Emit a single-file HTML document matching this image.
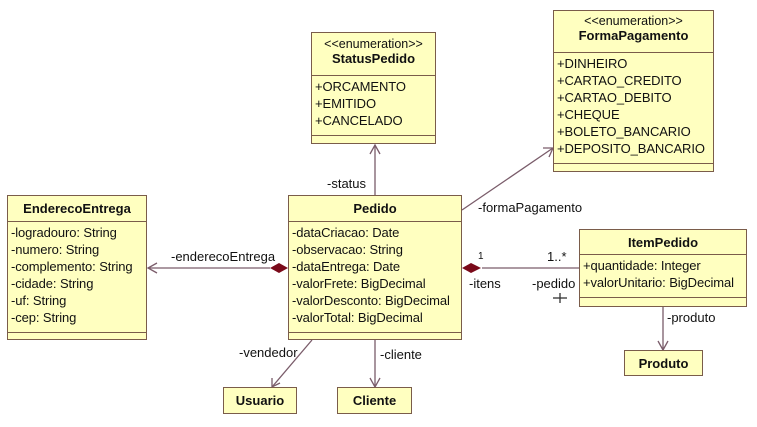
<!DOCTYPE html>
<html><head><meta charset="utf-8"><style>
body{margin:0;width:757px;height:427px;background:#fff;position:relative;overflow:hidden;font-family:"Liberation Sans",sans-serif;font-size:13px;color:#111}
.b{position:absolute;background:#ffffc0;border:1px solid #7a5c4a;box-sizing:border-box}
.h{border-bottom:1px solid #7a5c4a;text-align:center;font-weight:bold;font-size:13px;box-sizing:border-box}
.a{border-bottom:1px solid #7a5c4a;padding:2px 0 0 3px;line-height:17px;box-sizing:border-box;white-space:nowrap;letter-spacing:-0.1px}
.s{font-weight:normal;font-size:12.5px;display:block}
.l{position:absolute;font-size:13px;white-space:nowrap}
svg{position:absolute;left:0;top:0}
</style></head><body>
<svg width="757" height="427">
<g stroke="#7a5c6a" stroke-width="1.3" fill="none">
<line x1="375" y1="195" x2="375" y2="145"/><polyline points="370,154 375,145 380,154"/>
<line x1="462" y1="210" x2="553" y2="148"/><polyline points="543,148 553,148 549,157"/>
<line x1="270" y1="268" x2="148" y2="268"/><polyline points="157,263 148,268 157,273"/>
<line x1="482" y1="268" x2="579" y2="268"/>
<line x1="312" y1="340" x2="272" y2="387"/><polyline points="272,378 272,387 280,383"/>
<line x1="375" y1="340" x2="375" y2="387"/><polyline points="370,378 375,387 380,378"/>
<line x1="663" y1="307" x2="663" y2="350"/><polyline points="658,341 663,350 668,341"/>
<line x1="560" y1="293" x2="560" y2="303" stroke="#333"/><line x1="553" y1="298" x2="567" y2="298" stroke="#333"/>
</g>
<polygon points="270,268 279,263 288,268 279,273" fill="#7a0a1a"/>
<polygon points="462,268 471,263 481,268 471,273" fill="#7a0a1a"/>
</svg>
<div class="b" style="left:311px;top:32px;width:125px;height:112px"><div class="h" style="height:43px;padding-top:4px"><span class="s">&lt;&lt;enumeration&gt;&gt;</span>StatusPedido</div><div class="a" style="height:60px">+ORCAMENTO<br>+EMITIDO<br>+CANCELADO</div></div>
<div class="b" style="left:553px;top:10px;width:161px;height:162px"><div class="h" style="height:42px;padding-top:3px"><span class="s">&lt;&lt;enumeration&gt;&gt;</span>FormaPagamento</div><div class="a" style="height:111px">+DINHEIRO<br>+CARTAO_CREDITO<br>+CARTAO_DEBITO<br>+CHEQUE<br>+BOLETO_BANCARIO<br>+DEPOSITO_BANCARIO</div></div>
<div class="b" style="left:7px;top:195px;width:140px;height:145px"><div class="h" style="height:26px;padding-top:5px">EnderecoEntrega</div><div class="a" style="height:111px">-logradouro: String<br>-numero: String<br>-complemento: String<br>-cidade: String<br>-uf: String<br>-cep: String</div></div>
<div class="b" style="left:288px;top:195px;width:174px;height:145px"><div class="h" style="height:26px;padding-top:5px">Pedido</div><div class="a" style="height:111px">-dataCriacao: Date<br>-observacao: String<br>-dataEntrega: Date<br>-valorFrete: BigDecimal<br>-valorDesconto: BigDecimal<br>-valorTotal: BigDecimal</div></div>
<div class="b" style="left:579px;top:229px;width:168px;height:78px"><div class="h" style="height:25px;padding-top:5px">ItemPedido</div><div class="a" style="height:43px">+quantidade: Integer<br>+valorUnitario: BigDecimal</div></div>
<div class="b" style="left:223px;top:387px;width:74px;height:27px"><div class="h" style="border:none;padding-top:5px">Usuario</div></div>
<div class="b" style="left:337px;top:387px;width:75px;height:27px"><div class="h" style="border:none;padding-top:5px">Cliente</div></div>
<div class="b" style="left:624px;top:350px;width:79px;height:26px"><div class="h" style="border:none;padding-top:5px">Produto</div></div>
<div class="l" style="left:327px;top:176px">-status</div>
<div class="l" style="left:478px;top:200px">-formaPagamento</div>
<div class="l" style="left:171px;top:249px">-enderecoEntrega</div>
<div class="l" style="left:478px;top:251px;font-size:10px">1</div>
<div class="l" style="left:547px;top:249px">1..*</div>
<div class="l" style="left:469px;top:276px">-itens</div>
<div class="l" style="left:532px;top:276px">-pedido</div>
<div class="l" style="left:239px;top:345px">-vendedor</div>
<div class="l" style="left:380px;top:347px">-cliente</div>
<div class="l" style="left:667px;top:310px">-produto</div>
</body></html>
